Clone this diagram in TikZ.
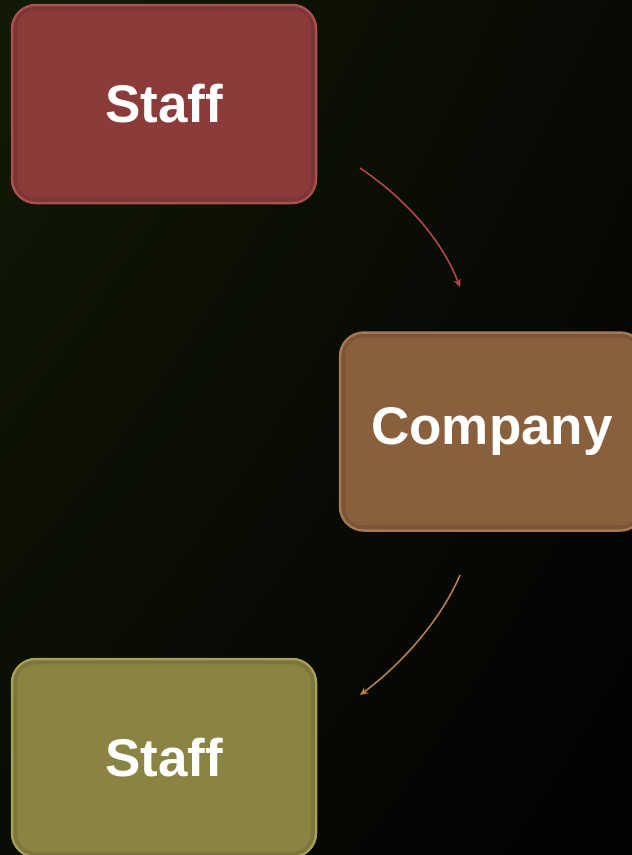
\documentclass[tikz,border=0pt]{standalone}
\usepackage{fontspec}
\setmainfont{Liberation Sans}
\usetikzlibrary{shadings,arrows.meta}
\definecolor{redbase}{RGB}{139,60,58}
\definecolor{redrim}{RGB}{170,82,78}
\definecolor{brbase}{RGB}{138,95,60}
\definecolor{brrim}{RGB}{168,122,84}
\definecolor{olbase}{RGB}{138,132,66}
\definecolor{olrim}{RGB}{168,160,84}
\definecolor{redarrow}{RGB}{176,72,72}
\definecolor{brarrow}{RGB}{186,124,76}
\definecolor{bgul}{RGB}{18,26,5}
\definecolor{bgur}{RGB}{8,10,4}
\definecolor{bgll}{RGB}{9,12,4}
\definecolor{bglr}{RGB}{2,2,2}
\begin{document}
\begin{tikzpicture}[x=1pt,y=-1pt,
  box/.style={rounded corners=24pt, minimum width=304pt, minimum height=198pt,
    line width=2.5pt, inner sep=0pt, text=white,
    font=\fontsize{53}{60}\selectfont\bfseries},
  bevel/.style={rounded corners=20pt, line width=4pt, opacity=0.35},
  conn/.style={line width=1.6pt, -{Stealth[length=8pt,width=7.5pt]}}]
\useasboundingbox (0,0) rectangle (632,855);
\shade[upper left=bgul, upper right=bgur, lower left=bgll, lower right=bglr]
  (0,0) rectangle (632,855);
\begin{scope}
\clip (0,0) rectangle (632,855);
\node[box, fill=redbase, draw=redrim] (s1) at (164,104) {Staff};
\node[box, fill=brbase, draw=brrim] (c) at (492,431.5) {Company};
\node[box, fill=olbase, draw=olrim] (s2) at (164,758) {Staff};
\draw[bevel, redbase!70!black] ([shift={(4.5,4.5)}]s1.north west) rectangle ([shift={(-4.5,-4.5)}]s1.south east);
\draw[bevel, brbase!70!black] ([shift={(4.5,4.5)}]c.north west) rectangle ([shift={(-4.5,-4.5)}]c.south east);
\draw[bevel, olbase!70!black] ([shift={(4.5,4.5)}]s2.north west) rectangle ([shift={(-4.5,-4.5)}]s2.south east);
\end{scope}
\coordinate (a1s) at (360,168);
\coordinate (a1e) at (460,287);
\coordinate (a2s) at (460,575);
\coordinate (a2e) at (360,695);
\draw[conn, redarrow] (a1s) .. controls (400,195) and (440,235) .. (a1e);
\draw[conn, brarrow] (a2s) .. controls (440,622) and (400,665) .. (a2e);
\end{tikzpicture}
\end{document}
